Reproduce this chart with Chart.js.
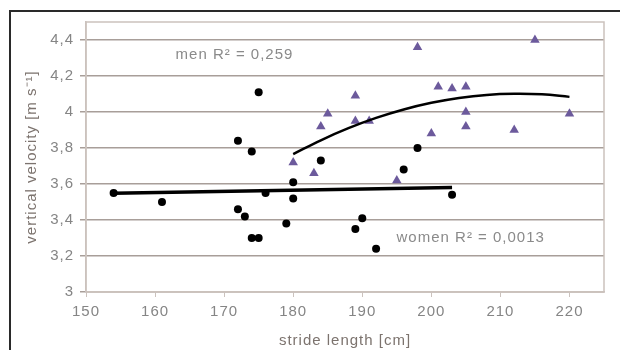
<!DOCTYPE html>
<html>
<head>
<meta charset="utf-8">
<script src="https://cdn.jsdelivr.net/npm/chart.js@4"></script>
<style>
  html, body { margin: 0; padding: 0; background: #fff; }
  #wrap { width: 620px; height: 350px; position: relative; }
</style>
</head>
<body>
<div id="wrap"><canvas id="strideChart" width="620" height="350"></canvas></div>
<script>
// women (black dots)
const womenX = [154, 161, 172, 172, 173, 174, 174, 175, 175, 176, 179, 180, 180, 184, 189, 190, 192, 196, 198, 203];
const womenY = [3.55, 3.50, 3.84, 3.46, 3.42, 3.78, 3.30, 4.11, 3.30, 3.55, 3.38, 3.61, 3.52, 3.73, 3.35, 3.41, 3.24, 3.68, 3.80, 3.54];

// men (triangles)
const menX = [180, 183, 184, 185, 189, 189, 191, 195, 198, 200, 201, 203, 205, 205, 205, 212, 215, 220];
const menY = [3.72, 3.66, 3.92, 3.99, 4.09, 3.95, 3.95, 3.62, 4.36, 3.88, 4.14, 4.13, 4.14, 4.00, 3.92, 3.90, 4.40, 3.99];

// trend lines
const womenTrendX = [154, 203];
const womenTrendY = [3.548, 3.58];
const menTrendX = [180, 184, 188, 192, 196, 200, 204, 208, 212, 216, 220];
const menTrendY = [3.766, 3.843, 3.910, 3.967, 4.014, 4.051, 4.078, 4.095, 4.101, 4.098, 4.084];

const xTicks = [150, 160, 170, 180, 190, 200, 210, 220];
const yTicks = [3, 3.2, 3.4, 3.6, 3.8, 4, 4.2, 4.4];

const menLabel = 'men R² = 0,259';
const womenLabel = 'women R² = 0,0013';

const pts = (xs, ys) => xs.map((x, i) => ({ x: x, y: ys[i] }));

const textGray = '#858585';
const gridColor = '#a89e99';
const frameColor = '#cbc2bd';
const fontFamily = '"Liberation Sans", Arial, sans-serif';

// frame, plot box and the two R² notes
const decorPlugin = {
  id: 'decor',
  beforeDraw(chart) {
    const ctx = chart.ctx;
    // the original lettering is a bit wider than Liberation Sans
    ctx.letterSpacing = '1px';
    ctx.save();
    ctx.strokeStyle = '#2a2a2a';
    ctx.lineWidth = 2;
    ctx.beginPath();
    ctx.moveTo(10, 352);
    ctx.lineTo(10, 11);
    ctx.lineTo(622, 11);
    ctx.stroke();
    ctx.restore();
  },
  afterDraw(chart) {
    const ctx = chart.ctx;
    const a = chart.chartArea;
    const xs = chart.scales.x, ys = chart.scales.y;
    ctx.save();
    ctx.strokeStyle = frameColor;
    ctx.lineWidth = 1.5;
    ctx.strokeRect(a.left, a.top, a.right - a.left, a.bottom - a.top);
    ctx.fillStyle = '#8a8a8a';
    ctx.font = '15px ' + fontFamily;
    ctx.textAlign = 'center';
    ctx.textBaseline = 'middle';
    ctx.fillText(menLabel, xs.getPixelForValue(171.5), ys.getPixelForValue(4.32));
    ctx.fillText(womenLabel, xs.getPixelForValue(205.7), ys.getPixelForValue(3.30));
    ctx.restore();
  }
};

const ctx = document.getElementById('strideChart').getContext('2d');
new Chart(ctx, {
  type: 'scatter',
  data: {
    datasets: [
      {
        label: 'women trend',
        data: pts(womenTrendX, womenTrendY),
        showLine: true,
        borderColor: '#000',
        borderWidth: 3.5,
        pointRadius: 0,
        order: 0
      },
      {
        label: 'men trend',
        data: pts(menTrendX, menTrendY),
        showLine: true,
        tension: 0.4,
        borderColor: '#000',
        borderWidth: 2.5,
        pointRadius: 0,
        order: 0
      },
      {
        label: 'women',
        data: pts(womenX, womenY),
        pointStyle: 'circle',
        pointRadius: 4,
        backgroundColor: '#000',
        borderColor: '#000',
        borderWidth: 0,
        order: 1
      },
      {
        label: 'men',
        data: pts(menX, menY),
        pointStyle: 'triangle',
        pointRadius: 5.5,
        backgroundColor: '#6c5a9c',
        borderColor: '#6c5a9c',
        borderWidth: 0,
        order: 1
      }
    ]
  },
  options: {
    responsive: false,
    animation: false,
    layout: { padding: { left: 10, top: 22, right: 16, bottom: 0 } },
    plugins: {
      legend: { display: false },
      tooltip: { enabled: false }
    },
    scales: {
      x: {
        type: 'linear',
        min: 150,
        max: 225,
        afterBuildTicks: (scale) => { scale.ticks = xTicks.map(v => ({ value: v })); },
        afterFit: (scale) => { scale.height = 58; },
        grid: {
          drawOnChartArea: false,
          drawTicks: true,
          tickLength: 5,
          color: frameColor
        },
        border: { color: frameColor, width: 1.5 },
        ticks: {
          color: textGray,
          padding: 6,
          maxRotation: 0,
          font: { family: fontFamily, size: 15 }
        },
        title: {
          display: true,
          text: 'stride length [cm]',
          color: '#7c736e',
          padding: { top: 0, bottom: 0 },
          font: { family: fontFamily, size: 15 }
        }
      },
      y: {
        type: 'linear',
        min: 3,
        max: 4.5,
        afterBuildTicks: (scale) => { scale.ticks = yTicks.map(v => ({ value: v })); },
        afterFit: (scale) => { scale.width = 76; },
        grid: {
          color: gridColor,
          lineWidth: 1.5,
          tickLength: 6
        },
        border: { color: frameColor, width: 1.5 },
        ticks: {
          color: textGray,
          padding: 6,
          font: { family: fontFamily, size: 15 },
          callback: (v) => String(v).replace('.', ',')
        },
        title: {
          display: true,
          text: 'vertical velocity [m s⁻¹]',
          color: '#7c736e',
          padding: { top: 13, bottom: 0 },
          font: { family: fontFamily, size: 15 }
        }
      }
    }
  },
  plugins: [decorPlugin]
});
</script>
</body>
</html>
